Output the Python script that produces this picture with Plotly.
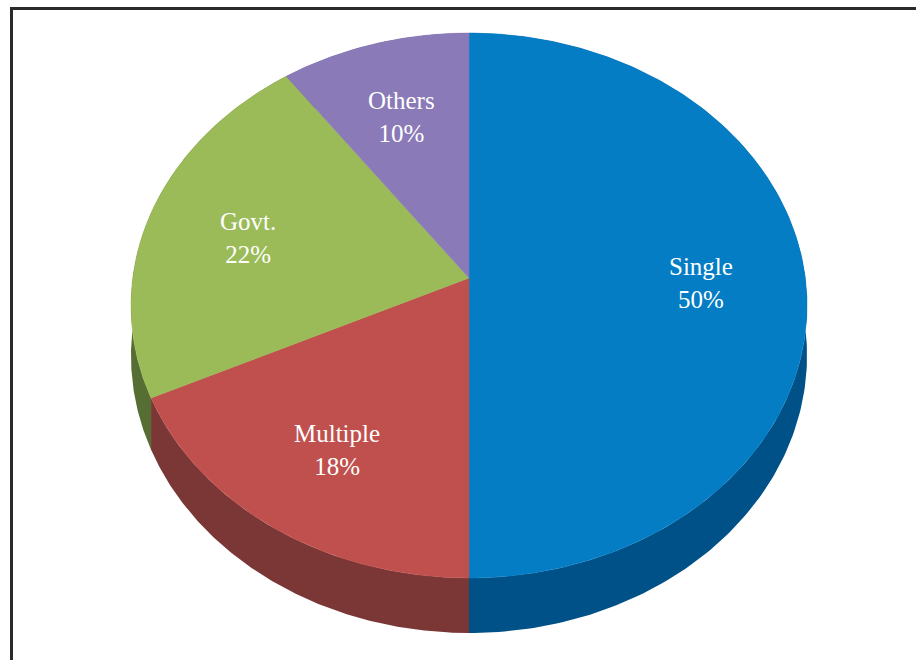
import numpy as np
import plotly.graph_objects as go

# ---- data ----
categories = ["Single", "Multiple", "Govt.", "Others"]
shares = [50, 18, 22, 10]
top_colors = ["#047DC5", "#C0504D", "#9BBB59", "#8A7AB8"]
side_colors = ["#005187", "#7A3736", "#566E33", "#5E4E86"]

# ---- projection of the tilted disk (pixel space) ----
CX, CY = 469.0, 278.0
SX, SY = 336.3, 269.7
K = 0.1009
H0 = 49.5


def proj(u, v):
    d = 1.0 + K * v
    return CX + SX * u / d, CY - SY * v / d


def depth(v):
    return H0 / (1.0 + K * v)


fig = go.Figure()

total = float(sum(shares))
starts = np.cumsum([0] + shares[:-1]) / total * 360.0
ends = np.cumsum(shares) / total * 360.0

# side walls first
for i, cat in enumerate(categories):
    a0, a1 = starts[i], ends[i]
    th = np.radians(np.linspace(a0, a1, 200))
    u, v = np.sin(th), np.cos(th)
    xt, yt = proj(u, v)
    yb = yt + depth(v)
    xs = np.concatenate([xt, xt[::-1]])
    ys = np.concatenate([yt, yb[::-1]])
    fig.add_trace(go.Scatter(x=xs, y=ys, fill="toself", mode="lines",
                             line=dict(width=0, color=side_colors[i]),
                             fillcolor=side_colors[i], hoverinfo="skip",
                             showlegend=False))

# top faces
for i, cat in enumerate(categories):
    a0, a1 = starts[i], ends[i]
    th = np.radians(np.linspace(a0, a1, 300))
    u, v = np.sin(th), np.cos(th)
    xt, yt = proj(u, v)
    xs = np.concatenate([[CX], xt, [CX]])
    ys = np.concatenate([[CY], yt, [CY]])
    fig.add_trace(go.Scatter(x=xs, y=ys, fill="toself", mode="lines",
                             line=dict(width=0.5, color=top_colors[i]),
                             fillcolor=top_colors[i], hoverinfo="text",
                             text=f"{cat}: {shares[i]}%", showlegend=False))

# labels
for i, cat in enumerate(categories):
    mid = np.radians((starts[i] + ends[i]) / 2.0)
    r = 0.69
    lx, ly = proj(r * np.sin(mid), r * np.cos(mid))
    fig.add_annotation(x=lx, y=ly + 5, text=f"{cat}<br>{shares[i]}%",
                       showarrow=False,
                       font=dict(family="Liberation Serif", size=25, color="white"))

# frame
fig.add_shape(type="rect", xref="paper", yref="paper",
              x0=11.5 / 916, x1=1.05, y0=-0.05, y1=1 - 8.5 / 660,
              line=dict(color="#2A2A2A", width=3))

fig.update_layout(
    width=916, height=660,
    margin=dict(l=0, r=0, t=0, b=0),
    paper_bgcolor="white", plot_bgcolor="white",
    xaxis=dict(range=[0, 916], visible=False, fixedrange=True),
    yaxis=dict(range=[660, 0], visible=False, fixedrange=True),
    showlegend=False,
)

fig.write_html("out.html")
